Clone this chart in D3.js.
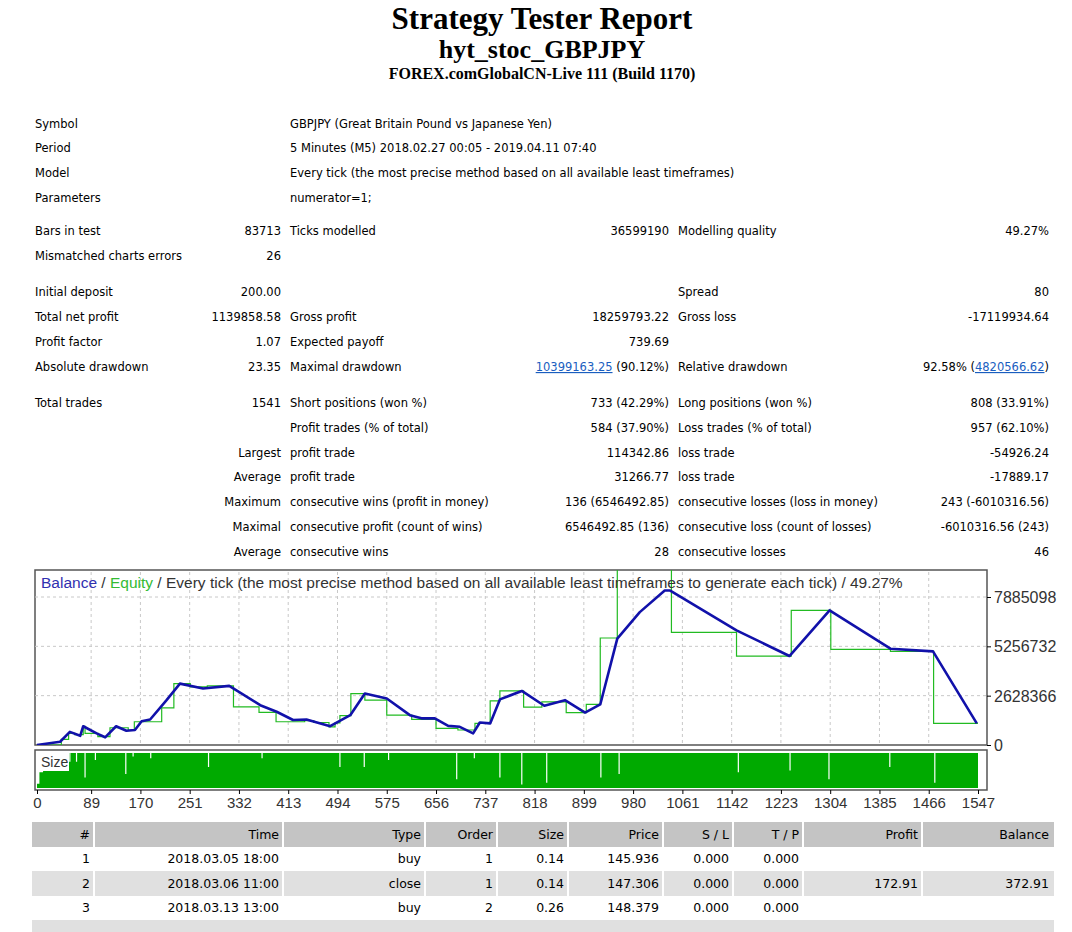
<!DOCTYPE html>
<html>
<head>
<meta charset="UTF-8">
<title>Strategy Tester Report</title>
<script src="https://d3js.org/d3.v7.min.js"></script>
<style>
  body { margin: 0; background: #fff; }
  svg text { font-family: "DejaVu Sans", Tahoma, sans-serif; }
</style>
</head>
<body>
<svg id="page" width="1072" height="932"></svg>
<script>
// ---- report data ----
const statRows = [
  // [y, label1, value1, label2, value2, label3, value3]
  [124, "Symbol", "", "GBPJPY (Great Britain Pound vs Japanese Yen)", "", "", ""],
  [148, "Period", "", "5 Minutes (M5) 2018.02.27 00:05 - 2019.04.11 07:40", "", "", ""],
  [173, "Model", "", "Every tick (the most precise method based on all available least timeframes)", "", "", ""],
  [198, "Parameters", "", "numerator=1;", "", "", ""],
  [231, "Bars in test", "83713", "Ticks modelled", "36599190", "Modelling quality", "49.27%"],
  [256, "Mismatched charts errors", "26", "", "", "", ""],
  [292, "Initial deposit", "200.00", "", "", "Spread", "80"],
  [317, "Total net profit", "1139858.58", "Gross profit", "18259793.22", "Gross loss", "-17119934.64"],
  [342, "Profit factor", "1.07", "Expected payoff", "739.69", "", ""],
  [367, "Absolute drawdown", "23.35", "Maximal drawdown", "LINK1", "Relative drawdown", "LINK2"],
  [403, "Total trades", "1541", "Short positions (won %)", "733 (42.29%)", "Long positions (won %)", "808 (33.91%)"],
  [428, "", "", "Profit trades (% of total)", "584 (37.90%)", "Loss trades (% of total)", "957 (62.10%)"],
  [453, "", "Largest", "profit trade", "114342.86", "loss trade", "-54926.24"],
  [477, "", "Average", "profit trade", "31266.77", "loss trade", "-17889.17"],
  [502, "", "Maximum", "consecutive wins (profit in money)", "136 (6546492.85)", "consecutive losses (loss in money)", "243 (-6010316.56)"],
  [527, "", "Maximal", "consecutive profit (count of wins)", "6546492.85 (136)", "consecutive loss (count of losses)", "-6010316.56 (243)"],
  [552, "", "Average", "consecutive wins", "28", "consecutive losses", "46"]
];

// balance curve: [trade #, balance]
const balance = [
  [0, 0], [38, 175000], [54, 700000], [71, 490000], [76, 1000000], [98, 620000],
  [112, 410000], [130, 1000000], [147, 760000], [161, 800000], [172, 1270000],
  [186, 1360000], [213, 2390000], [235, 3270000], [273, 3010000], [316, 3150000],
  [367, 2120000], [394, 1770000], [421, 1330000], [443, 1360000], [482, 1000000],
  [515, 1590000], [539, 2740000], [575, 2480000], [613, 1590000], [632, 1420000],
  [654, 1420000], [676, 1020000], [695, 970000], [717, 620000], [728, 1200000],
  [745, 1150000], [761, 2430000], [797, 2880000], [834, 2090000], [868, 2390000],
  [901, 1730000], [926, 2160000], [954, 5670000], [991, 7080000], [1032, 8230000],
  [1041, 8230000], [1150, 6110000], [1237, 4740000], [1303, 7170000], [1403, 5130000],
  [1473, 4990000], [1545, 1150000]
];

// equity steps: [trade #, equity held from that trade]
const equity = [
  [0, 0], [40, 300000], [52, 620000], [62, 550000], [76, 1000000], [79, 620000],
  [100, 450000], [120, 920000], [150, 780000], [160, 1240000], [205, 1980000],
  [225, 3270000], [252, 3100000], [280, 3150000], [323, 2030000], [365, 1740000],
  [393, 1240000], [440, 1300000], [455, 1200000], [480, 970000], [490, 1180000],
  [498, 1560000], [516, 2740000], [539, 2390000], [575, 1590000], [616, 1360000],
  [656, 890000], [692, 800000], [720, 1150000], [745, 2350000], [761, 2880000],
  [800, 2020000], [830, 2300000], [870, 1730000], [903, 2160000], [926, 5700000],
  [954, 9600000], [1043, 6000000], [1150, 4740000], [1240, 7170000], [1305, 5100000],
  [1403, 4990000], [1474, 1150000], [1547, 1150000]
];

// size panel: lot size steps (relative) and trades with small lots
const sizeSteps = [[0, 0.12], [4, 0.45], [10, 0.55], [30, 0.62], [50, 1], [1547, 1]];
const smallLots = [
  [54, 0.75], [65, 0.75], [79, 0.3], [96, 0.8], [146, 0.4], [158, 0.9], [187, 0.85],
  [282, 0.6], [370, 0.85], [498, 0.6], [538, 0.6], [578, 0.8], [690, 0.25], [719, 0.85],
  [761, 0.3], [797, 0.1], [838, 0.15], [927, 0.3], [957, 0.4], [1153, 0.45], [1238, 0.5],
  [1302, 0.25], [1402, 0.6], [1476, 0.15]
];

const xTicks = [0, 89, 170, 251, 332, 413, 494, 575, 656, 737, 818, 899, 980, 1061, 1142, 1223, 1304, 1385, 1466, 1547];
const yTicks = [0, 2628366, 5256732, 7885098];

const tradeCols = ["#", "Time", "Type", "Order", "Size", "Price", "S / L", "T / P", "Profit", "Balance"];
const tradeRows = [
  ["1", "2018.03.05 18:00", "buy", "1", "0.14", "145.936", "0.000", "0.000", "", ""],
  ["2", "2018.03.06 11:00", "close", "1", "0.14", "147.306", "0.000", "0.000", "172.91", "372.91"],
  ["3", "2018.03.13 13:00", "buy", "2", "0.26", "148.379", "0.000", "0.000", "", ""]
];

// ---- drawing ----
const svg = d3.select("#page");

// title block
const serif = '"Liberation Serif", "Times New Roman", serif';
svg.append("text").attr("x", 542).attr("y", 29).attr("text-anchor", "middle")
  .style("font-family", serif).style("font-weight", "bold").style("font-size", "31px")
  .text("Strategy Tester Report");
svg.append("text").attr("x", 542).attr("y", 58).attr("text-anchor", "middle")
  .style("font-family", serif).style("font-weight", "bold").style("font-size", "26px")
  .text("hyt_stoc_GBPJPY");
svg.append("text").attr("x", 542).attr("y", 79).attr("text-anchor", "middle")
  .style("font-family", serif).style("font-weight", "bold").style("font-size", "16px")
  .text("FOREX.comGlobalCN-Live 111 (Build 1170)");

// stats
const st = svg.append("g").style("font-size", "11.5px").attr("fill", "#000");
const colX = [{x: 35, a: "start"}, {x: 281, a: "end"}, {x: 290, a: "start"},
              {x: 669, a: "end"}, {x: 678, a: "start"}, {x: 1049, a: "end"}];
statRows.forEach(r => {
  r.slice(1).forEach((t, i) => {
    if (!t) return;
    if (t === "LINK1" || t === "LINK2") {
      const tx = st.append("text").attr("x", colX[i].x).attr("y", r[0] + 4).attr("text-anchor", "end");
      const num = t === "LINK1" ? "10399163.25" : "4820566.62";
      if (t === "LINK1") {
        tx.append("tspan").attr("fill", "#1a5ebf").attr("text-decoration", "underline").text(num);
        tx.append("tspan").text(" (90.12%)");
      } else {
        tx.append("tspan").text("92.58% (");
        tx.append("tspan").attr("fill", "#1a5ebf").attr("text-decoration", "underline").text(num);
        tx.append("tspan").text(")");
      }
      return;
    }
    st.append("text").attr("x", colX[i].x).attr("y", r[0] + 4)
      .attr("text-anchor", colX[i].a).text(t);
  });
});

// chart
const cf = '"Liberation Sans", Arial, sans-serif';
const L = 35, R = 987, T = 570, B = 745;
const x = d3.scaleLinear().domain([0, 1547]).range([37, 978]);
const y = d3.scaleLinear().domain([0, 7885098]).range([745, 597]);

svg.append("rect").attr("x", L).attr("y", T).attr("width", R - L).attr("height", B - T)
  .attr("fill", "#fff").attr("stroke", "#555").attr("stroke-width", 1.5);

const grid = svg.append("g").attr("stroke", "#c8c8c8").attr("stroke-dasharray", "3,3");
xTicks.slice(1, -1).forEach(t => grid.append("line")
  .attr("x1", x(t)).attr("x2", x(t)).attr("y1", T + 2).attr("y2", B));
yTicks.slice(1).forEach(t => grid.append("line")
  .attr("x1", L).attr("x2", R).attr("y1", y(t)).attr("y2", y(t)));

svg.append("clipPath").attr("id", "clip").append("rect")
  .attr("x", L).attr("y", T).attr("width", R - L).attr("height", B - T);
const plot = svg.append("g").attr("clip-path", "url(#clip)");

plot.append("path").datum(equity)
  .attr("d", d3.line().x(d => x(d[0])).y(d => y(d[1])).curve(d3.curveStepAfter))
  .attr("fill", "none").attr("stroke", "#22bb22").attr("stroke-width", 1.2);
plot.append("path").datum(balance)
  .attr("d", d3.line().x(d => x(d[0])).y(d => y(d[1])))
  .attr("fill", "none").attr("stroke", "#1111aa").attr("stroke-width", 2.6)
  .attr("stroke-linejoin", "round");

const leg = svg.append("text").attr("x", 41).attr("y", 588)
  .style("font-family", cf).style("font-size", "15.5px");
leg.append("tspan").attr("fill", "#3030b0").text("Balance");
leg.append("tspan").attr("fill", "#333").text(" / ");
leg.append("tspan").attr("fill", "#33bb33").text("Equity");
leg.append("tspan").attr("fill", "#333")
  .text(" / Every tick (the most precise method based on all available least timeframes to generate each tick) / 49.27%");

// y axis
const yAx = svg.append("g").attr("transform", `translate(${R},0)`)
  .call(d3.axisRight(y).tickValues(yTicks).tickSize(4).tickFormat(d3.format("d")));
yAx.select(".domain").remove();
yAx.selectAll("text").style("font-family", cf).style("font-size", "16px").attr("fill", "#333").attr("dy", "0.35em");

// size panel
const sT = 750, sB = 790;
const sy = d3.scaleLinear().domain([0, 1]).range([788, 753]);
svg.append("rect").attr("x", L).attr("y", sT).attr("width", R - L).attr("height", sB - sT)
  .attr("fill", "#fff").attr("stroke", "#555").attr("stroke-width", 1.5);
svg.append("path").datum(sizeSteps)
  .attr("d", d3.area().x(d => x(d[0])).y0(788).y1(d => sy(d[1])).curve(d3.curveStepAfter))
  .attr("fill", "#00aa00");
svg.append("g").selectAll("line").data(smallLots).join("line")
  .attr("x1", d => x(d[0])).attr("x2", d => x(d[0]))
  .attr("y1", 753).attr("y2", d => sy(d[1]))
  .attr("stroke", "#fff").attr("stroke-width", 1.2);
svg.append("rect").attr("x", 38).attr("y", 753).attr("width", 31).attr("height", 18).attr("fill", "#fff");
svg.append("text").attr("x", 41).attr("y", 767).style("font-family", cf).style("font-size", "14px")
  .attr("fill", "#333").text("Size");

// x axis
const xAx = svg.append("g").attr("transform", `translate(0,${sB})`)
  .call(d3.axisBottom(x).tickValues(xTicks).tickSize(4).tickFormat(d3.format("d")));
xAx.select(".domain").remove();
xAx.selectAll("text").style("font-family", cf).style("font-size", "15px").attr("fill", "#333").attr("dy", "0.7em");

// trades table
const colEdges = [32, 95, 284, 426, 498, 569, 664, 734, 804, 923, 1054];
const rowTop = [822, 847, 871, 896, 920];
const tb = svg.append("g").style("font-family", '"Liberation Sans Narrow", "DejaVu Sans Condensed", sans-serif')
  .style("font-size", "12.5px");
const drawRow = (vals, i, fill) => {
  tb.append("rect").attr("x", colEdges[0]).attr("y", rowTop[i])
    .attr("width", colEdges[10] - colEdges[0]).attr("height", rowTop[i + 1] - rowTop[i]).attr("fill", fill);
  vals.forEach((v, j) => {
    if (j > 0) tb.append("line").attr("x1", colEdges[j] - 1).attr("x2", colEdges[j] - 1)
      .attr("y1", rowTop[i]).attr("y2", rowTop[i + 1]).attr("stroke", "#fff").attr("stroke-width", 2);
    tb.append("text").attr("x", colEdges[j + 1] - 5).attr("y", (rowTop[i] + rowTop[i + 1]) / 2 + 4)
      .attr("text-anchor", "end").text(v);
  });
};
drawRow(tradeCols, 0, "#c4c4c4");
tradeRows.forEach((r, i) => drawRow(r, i + 1, i % 2 ? "#e0e0e0" : "#fff"));
tb.append("rect").attr("x", colEdges[0]).attr("y", 920).attr("width", colEdges[10] - colEdges[0])
  .attr("height", 12).attr("fill", "#e0e0e0");
</script>
</body>
</html>
